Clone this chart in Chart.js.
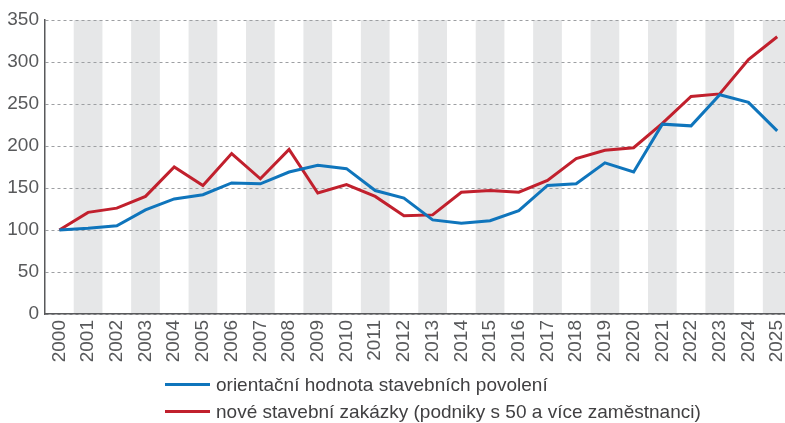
<!DOCTYPE html>
<html>
<head>
<meta charset="utf-8">
<script src="https://cdn.jsdelivr.net/npm/chart.js@4"></script>
<style>
  html, body { margin: 0; padding: 0; background: #fff; }
  #wrap { position: relative; width: 785px; height: 423px; overflow: hidden; }
  #chartBox { position: absolute; left: 0; top: 0; width: 806px; height: 372px; }
  #legend { position: absolute; left: 165px; top: 371px; font-family: 'Liberation Sans', sans-serif; font-size: 19px; color: #414042; }
  .row { display: flex; align-items: center; height: 27px; }
  .swatch { width: 45px; height: 3px; margin-right: 6px; }
</style>
</head>
<body>
<div id="wrap">
  <div id="chartBox"><canvas id="chart" width="806" height="372"></canvas></div>
  <div id="legend"></div>
</div>
<script>
const years = ['2000','2001','2002','2003','2004','2005','2006','2007','2008','2009','2010','2011','2012',
               '2013','2014','2015','2016','2017','2018','2019','2020','2021','2022','2023','2024','2025'];

const permits = [100, 102, 105, 124, 137, 142, 156, 155, 169, 177, 173, 147, 138,
                 112, 108, 111, 123, 153, 155, 180, 169, 226, 224, 261, 252, 218];

const orders  = [100, 121, 126, 140, 175, 153, 191, 161, 196, 144, 154, 140, 117,
                 118, 145, 147, 145, 159, 185, 195, 198, 227, 259, 262, 303, 330];

const yTicks = [0, 50, 100, 150, 200, 250, 300, 350];

const seriesNames = ['orientační hodnota stavebních povolení',
                     'nové stavební zakázky (podniky s 50 a více zaměstnanci)'];
const seriesColors = ['#0f75bc', '#c1202d'];

const FONT = "'Liberation Sans', sans-serif";

// grey stripes behind every other year
const bands = {
  id: 'bands',
  beforeDraw(chart) {
    const { ctx, chartArea, scales } = chart;
    const x = scales.x;
    const w = x.width / years.length;
    ctx.save();
    ctx.fillStyle = '#e6e7e8';
    years.forEach((y, i) => {
      if (i % 2 === 1) {
        const cx = x.getPixelForValue(i);
        ctx.fillRect(cx - w / 2, chartArea.top, w, chartArea.bottom - chartArea.top);
      }
    });
    ctx.restore();
  }
};

new Chart(document.getElementById('chart'), {
  type: 'line',
  data: {
    labels: years,
    datasets: [
      { label: seriesNames[0], data: permits, borderColor: seriesColors[0], borderWidth: 3, pointRadius: 0, tension: 0 },
      { label: seriesNames[1], data: orders,  borderColor: seriesColors[1], borderWidth: 3, pointRadius: 0, tension: 0 }
    ]
  },
  options: {
    responsive: false,
    animation: false,
    layout: { padding: { top: 20, right: 0, left: 0, bottom: 0 } },
    plugins: { legend: { display: false }, tooltip: { enabled: false } },
    scales: {
      x: {
        offset: true,
        grid: { display: false, drawTicks: false },
        border: { color: '#58595b', width: 1.5 },
        ticks: { minRotation: 90, maxRotation: 90, autoSkip: false, padding: 6,
                 color: '#58595b', font: { family: FONT, size: 19 } },
        afterFit(s) { s.height = 58; }
      },
      y: {
        min: 0, max: 350,
        afterBuildTicks(s) { s.ticks = yTicks.map(v => ({ value: v })); },
        grid: { color: '#9d9fa2', lineWidth: 1, drawTicks: false },
        border: { color: '#58595b', width: 1.5, dash: [3, 3] },
        ticks: { padding: 6, color: '#58595b', font: { family: FONT, size: 19 } },
        afterFit(s) { s.width = 45; }
      }
    }
  },
  plugins: [bands]
});

// legend as html rows
const legend = document.getElementById('legend');
seriesNames.forEach((name, i) => {
  const row = document.createElement('div');
  row.className = 'row';
  row.innerHTML = '<span class="swatch" style="background:' + seriesColors[i] + '"></span><span>' + name + '</span>';
  legend.appendChild(row);
});
</script>
</body>
</html>
